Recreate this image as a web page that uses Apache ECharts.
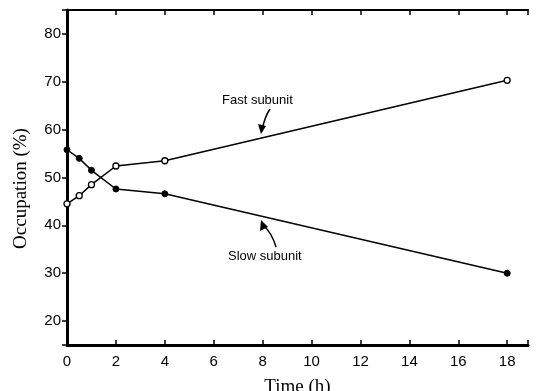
<!DOCTYPE html>
<html>
<head>
<meta charset="utf-8">
<script src="https://cdn.jsdelivr.net/npm/echarts@6/dist/echarts.min.js"></script>
<style>
  html, body { margin: 0; padding: 0; background: #fff; }
  #chart { width: 538px; height: 391px; }
</style>
</head>
<body>
<div id="chart"></div>
<script>
// time points (h)
const times = [0, 0.5, 1, 2, 4, 18]
// occupation (%)
const fastSubunit = [44.5, 46.2, 48.5, 52.4, 53.5, 70.3]
const slowSubunit = [55.8, 54.0, 51.5, 47.6, 46.6, 30.0]
const xTicks = [0, 2, 4, 6, 8, 10, 12, 14, 16, 18]
const yTicks = [20, 30, 40, 50, 60, 70, 80]

const pairs = (ys) => times.map((t, i) => [t, ys[i]])

const chart = echarts.init(document.getElementById('chart'), null, { renderer: 'canvas' })

const labelFont = { color: '#000', fontFamily: 'Liberation Sans, Arial, sans-serif', fontSize: 15 }
const nameFont = { color: '#000', fontFamily: 'Liberation Serif, Times New Roman, serif', fontSize: 19 }

const option = {
  backgroundColor: '#fff',
  animation: false,
  grid: { left: 67, top: 10, right: 10, bottom: 46, outerBoundsMode: 'none', containLabel: false },
  xAxis: [
    {
      type: 'value',
      min: 0,
      max: 18.85,
      interval: 2,
      position: 'bottom',
      name: 'Time (h)',
      nameLocation: 'middle',
      nameGap: 33,
      nameTextStyle: nameFont,
      axisLine: { lineStyle: { color: '#000', width: 3 } },
      axisTick: { inside: true, length: 5, lineStyle: { color: '#000', width: 1.5 } },
      axisLabel: {
        ...labelFont,
        margin: 9,
        formatter: (v) => (xTicks.indexOf(v) >= 0 ? String(v) : '')
      },
      splitLine: { show: false }
    },
    {
      type: 'value',
      min: 0,
      max: 18.85,
      interval: 2,
      position: 'top',
      axisLine: { lineStyle: { color: '#000', width: 2 } },
      axisTick: { inside: true, length: 5, lineStyle: { color: '#000', width: 1.5 } },
      axisLabel: { show: false },
      splitLine: { show: false }
    }
  ],
  yAxis: [
    {
      type: 'value',
      min: 15,
      max: 85,
      splitNumber: 7,
      position: 'left',
      name: 'Occupation (%)',
      nameLocation: 'middle',
      nameGap: 36,
      nameTextStyle: { ...nameFont, padding: [0, 22, 0, 0] },
      axisLine: { lineStyle: { color: '#000', width: 3 } },
      axisTick: { inside: false, length: 5, lineStyle: { color: '#000', width: 1.5 } },
      axisLabel: {
        ...labelFont,
        margin: 6,
        formatter: (v) => (yTicks.indexOf(v) >= 0 ? String(v) : '')
      },
      splitLine: { show: false }
    },
    {
      type: 'value',
      min: 15,
      max: 85,
      splitNumber: 7,
      position: 'right',
      axisLine: { lineStyle: { color: '#000', width: 2 } },
      axisTick: { inside: true, length: 5, lineStyle: { color: '#000', width: 1.5 } },
      axisLabel: { show: false },
      splitLine: { show: false }
    }
  ],
  series: [
    {
      name: 'Fast subunit',
      type: 'line',
      data: pairs(fastSubunit),
      symbol: 'circle',
      symbolSize: 6,
      itemStyle: { color: '#fff', borderColor: '#000', borderWidth: 1.3 },
      lineStyle: { color: '#000', width: 1.5 },
      z: 3
    },
    {
      name: 'Slow subunit',
      type: 'line',
      data: pairs(slowSubunit),
      symbol: 'circle',
      symbolSize: 6,
      itemStyle: { color: '#000', borderColor: '#000', borderWidth: 1 },
      lineStyle: { color: '#000', width: 1.5 },
      z: 3
    }
  ],
  graphic: [
    {
      type: 'text', left: 222, top: 94,
      style: { text: 'Fast subunit', fill: '#000', font: '13px Liberation Sans, Arial, sans-serif' }
    },
    {
      type: 'bezierCurve',
      shape: { x1: 270, y1: 109, x2: 262, y2: 130, cpx1: 265, cpy1: 116 },
      style: { stroke: '#000', lineWidth: 1.5, fill: null }
    },
    {
      type: 'polygon',
      shape: { points: [[261, 134], [258, 124], [266, 126]] },
      style: { fill: '#000' }
    },
    {
      type: 'text', left: 228, top: 250,
      style: { text: 'Slow subunit', fill: '#000', font: '13px Liberation Sans, Arial, sans-serif' }
    },
    {
      type: 'bezierCurve',
      shape: { x1: 276, y1: 247, x2: 263, y2: 225, cpx1: 272, cpy1: 233 },
      style: { stroke: '#000', lineWidth: 1.5, fill: null }
    },
    {
      type: 'polygon',
      shape: { points: [[261, 220], [260, 231], [268, 227]] },
      style: { fill: '#000' }
    }
  ]
}

chart.setOption(option)
</script>
</body>
</html>
